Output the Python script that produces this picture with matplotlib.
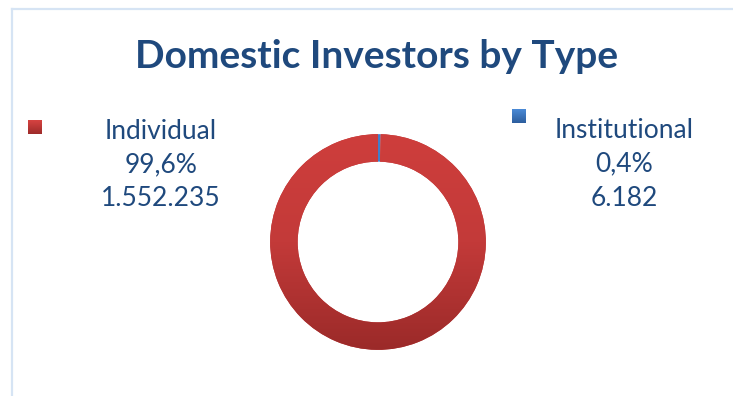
import numpy as np
import matplotlib.pyplot as plt
from matplotlib.lines import Line2D
from matplotlib.colors import LinearSegmentedColormap

plt.rcParams['font.family'] = ['Lato', 'DejaVu Sans']

# investor counts
categories = ['Institutional', 'Individual']
counts = [6182, 1552235]
pct_labels = ['0,4%', '99,6%']
count_labels = ['6.182', '1.552.235']
title = 'Domestic Investors by Type'

text_col = '#1F497D'
W, H = 733, 396

fig = plt.figure(figsize=(W / 100, H / 100), dpi=100)
fig.patch.set_facecolor('white')

# light frame on the top and left
frame_col = '#D6E4F4'
fig.add_artist(Line2D([11.5 / W, 1], [1 - 8.5 / H, 1 - 8.5 / H], color=frame_col, lw=1.6))
fig.add_artist(Line2D([11.5 / W, 11.5 / W], [0, 1 - 8.5 / H], color=frame_col, lw=1.6))

fig.text(377 / W, 1 - 56 / H, title, ha='center', va='center',
         fontsize=28, fontweight='bold', color=text_col)

# donut
cx, cy, r = 378, 242, 110
ax = fig.add_axes([(cx - r) / W, (H - cy - r) / H, 2 * r / W, 2 * r / H])
wedges, _ = ax.pie(counts, startangle=90, counterclock=False,
                   colors=['#3F7FCC', '#C0393A'], radius=1,
                   wedgeprops=dict(width=0.255, edgecolor='none'))
ax.set_aspect('equal')
ax.axis('off')

# vertical shading on the red ring (light at top, darker at bottom)
red_map = LinearSegmentedColormap.from_list('red_shade', ['#CE3E3C', '#C33A39', '#9B2A29'])
grad = np.linspace(0, 1, 256).reshape(-1, 1)
img = ax.imshow(grad, cmap=red_map, extent=(-1, 1, -1, 1), origin='upper',
                aspect='auto', zorder=2)
img.set_clip_path(wedges[1])
ax.set_xlim(-1.02, 1.02)
ax.set_ylim(-1.02, 1.02)

# labels with square markers
def label_block(x, y_top, sq_x, sq_y, sq_cols, lines):
    for k, s in enumerate(lines):
        fig.text(x / W, 1 - (y_top + 34 * k) / H, s, ha='center', va='center',
                 fontsize=19, color=text_col)
    sq = fig.add_axes([sq_x / W, 1 - (sq_y + 14) / H, 14 / W, 14 / H])
    sq.imshow(np.linspace(0, 1, 32).reshape(-1, 1),
              cmap=LinearSegmentedColormap.from_list('sq', sq_cols),
              extent=(0, 1, 0, 1), aspect='auto')
    sq.axis('off')

label_block(161, 131, 28, 120, ['#D64341', '#9E2B2A'],
            [categories[1], pct_labels[1], count_labels[1]])
label_block(624, 130, 512, 109, ['#4A8AD6', '#2D5E9E'],
            [categories[0], pct_labels[0], count_labels[0]])

fig.savefig('out.png', dpi=100, facecolor='white')
